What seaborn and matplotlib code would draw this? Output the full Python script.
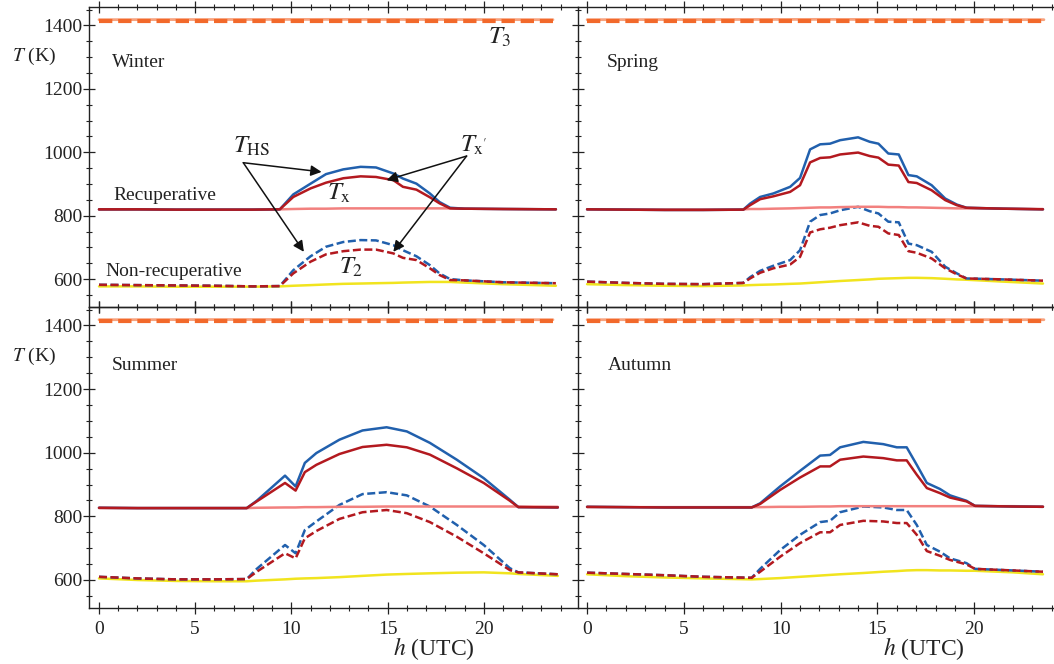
import numpy as np
import pandas as pd
import matplotlib
matplotlib.use("Agg")
import matplotlib.pyplot as plt
from matplotlib.ticker import MultipleLocator
import seaborn as sns

# ---------------- data ----------------
seasons = ["Winter", "Spring", "Summer", "Autumn"]

h_winter = [0, 2, 4, 6, 8, 9.4, 10.1, 11.0, 11.8, 12.7, 13.6, 14.4, 15.3, 15.8, 16.5, 17.2, 17.7, 18.25, 19, 21, 23.75]
tx_rec_winter = [820, 820, 819, 819, 819, 820, 859, 886, 904, 918, 924, 922, 912, 891, 882, 858, 839, 823, 822, 821, 820]
ths_rec_winter = [820, 820, 819, 819, 819, 820, 867, 901, 931, 946, 954, 952, 933, 917, 901, 870, 843, 825, 822, 821, 820]
t2_rec_winter = [819, 819, 819, 819, 819, 820, 821, 822, 822, 823, 823, 823, 823, 823, 823, 823, 823, 823, 822, 821, 820]
tx_non_winter = [582, 581, 580, 579, 577, 578, 618, 655, 678, 688, 693, 693, 681, 667, 660, 634, 613, 597, 596, 590, 587]
ths_non_winter = [582, 581, 580, 579, 577, 578, 628, 672, 702, 717, 723, 722, 707, 691, 672, 644, 618, 600, 596, 590, 587]
t2_non_winter = [577, 577, 576, 576, 576, 577, 579, 581, 583, 585, 586, 587, 588, 589, 590, 591, 591, 591, 589, 584, 579]

h_spring = [0, 2, 4, 6, 8.07, 8.42, 8.94, 9.62, 10.49, 11.0, 11.52, 12.04, 12.55, 13.07, 14.0, 14.6, 15.05, 15.56, 16.1, 16.6, 17.03, 17.8, 18.5, 19.1, 19.6, 21.5, 23.55]
tx_rec_spring = [820, 819, 818, 818, 819, 833, 852, 861, 875, 896, 968, 982, 984, 993, 999, 988, 983, 961, 958, 906, 903, 880, 849, 833, 825, 822, 820]
ths_rec_spring = [820, 819, 818, 818, 819, 838, 859, 870, 891, 919, 1009, 1025, 1027, 1038, 1047, 1033, 1027, 996, 993, 928, 924, 896, 854, 835, 825, 822, 820]
t2_rec_spring = [820, 820, 820, 820, 820, 821, 821, 822, 823, 824, 825, 826, 826, 827, 828, 828, 828, 827, 827, 826, 826, 825, 824, 823, 823, 822, 821]
tx_non_spring = [592, 588, 585, 584, 588, 602, 620, 634, 646, 670, 747, 757, 762, 770, 779, 768, 765, 744, 739, 688, 683, 665, 634, 615, 602, 599, 595]
ths_non_spring = [592, 588, 585, 584, 588, 606, 626, 642, 660, 691, 781, 802, 807, 817, 828, 814, 807, 781, 779, 712, 707, 686, 639, 618, 602, 599, 595]
t2_non_spring = [584, 581, 579, 578, 580, 581, 582, 583, 585, 586, 588, 590, 592, 594, 597, 599, 601, 602, 603, 604, 604, 603, 601, 599, 598, 592, 586]

h_summer = [0, 2, 4, 6, 7.68, 8.2, 9.67, 10.22, 10.7, 11.3, 12.5, 13.7, 14.95, 16.0, 17.2, 18.6, 20.0, 21.36, 21.8, 23.85]
tx_rec_summer = [827, 826, 826, 826, 826, 847, 905, 881, 939, 962, 996, 1018, 1025, 1017, 994, 951, 905, 849, 829, 828]
ths_rec_summer = [827, 826, 826, 826, 826, 849, 928, 894, 968, 999, 1041, 1070, 1080, 1067, 1031, 978, 920, 852, 829, 828]
t2_rec_summer = [826, 826, 826, 826, 826, 827, 828, 828, 829, 829, 830, 830, 831, 831, 831, 831, 831, 831, 831, 830]
tx_non_summer = [610, 605, 602, 602, 603, 626, 684, 668, 731, 754, 792, 813, 820, 810, 782, 736, 684, 631, 624, 618]
ths_non_summer = [610, 605, 602, 602, 603, 635, 710, 684, 757, 784, 836, 870, 876, 866, 831, 773, 710, 637, 624, 618]
t2_non_summer = [605, 600, 597, 596, 596, 598, 602, 604, 605, 606, 609, 613, 617, 619, 621, 623, 624, 621, 619, 613]

h_autumn = [0, 2, 4, 6, 8.5, 8.94, 9.97, 11.0, 12.04, 12.55, 13.07, 14.27, 15.3, 16.0, 16.51, 17.03, 17.55, 18.23, 18.75, 19.6, 20.04, 22, 23.55]
tx_rec_autumn = [830, 829, 828, 828, 828, 839, 883, 922, 957, 957, 978, 988, 983, 976, 976, 931, 889, 873, 859, 847, 833, 831, 830]
ths_rec_autumn = [830, 829, 828, 828, 828, 841, 894, 943, 991, 993, 1017, 1034, 1027, 1017, 1017, 962, 905, 886, 866, 849, 833, 831, 830]
t2_rec_autumn = [829, 829, 829, 829, 829, 829, 830, 830, 831, 831, 832, 832, 832, 832, 832, 832, 832, 832, 832, 832, 832, 832, 831]
tx_non_autumn = [623, 619, 615, 610, 607, 626, 673, 716, 750, 750, 773, 786, 784, 779, 779, 742, 691, 676, 663, 649, 635, 630, 626]
ths_non_autumn = [623, 619, 615, 610, 607, 635, 694, 742, 782, 786, 813, 831, 828, 820, 820, 773, 710, 689, 668, 653, 635, 630, 626]
t2_non_autumn = [618, 612, 608, 605, 602, 603, 606, 610, 614, 616, 618, 622, 626, 628, 630, 631, 631, 630, 630, 629, 629, 624, 618]

h_t3 = [0, 12, 23.6]
t3_rec = [1418, 1419, 1418]
t3_non = [1414, 1414, 1414]

x_ticks = [0, 5, 10, 15, 20]
y_ticks = [600, 800, 1000, 1200, 1400]

season_data = {
    "Winter": (h_winter, tx_rec_winter, ths_rec_winter, t2_rec_winter, tx_non_winter, ths_non_winter, t2_non_winter),
    "Spring": (h_spring, tx_rec_spring, ths_rec_spring, t2_rec_spring, tx_non_spring, ths_non_spring, t2_non_spring),
    "Summer": (h_summer, tx_rec_summer, ths_rec_summer, t2_rec_summer, tx_non_summer, ths_non_summer, t2_non_summer),
    "Autumn": (h_autumn, tx_rec_autumn, ths_rec_autumn, t2_rec_autumn, tx_non_autumn, ths_non_autumn, t2_non_autumn),
}

# ---------------- styling ----------------
sns.set_theme(style="ticks")
plt.rcParams["font.family"] = ["Liberation Serif", "DejaVu Serif"]
plt.rcParams["mathtext.fontset"] = "stix"

C_BLUE = "#2160ad"
C_RED = "#b3191f"
C_PINK = "#f2807e"
C_YEL = "#f1e41e"
C_ORA = "#f2692b"
C_ORA_L = "#f7a27e"
LW = 1.8
DASH = (3.2, 1.4)

fig = plt.figure(figsize=(10.54, 6.64), dpi=100)
W, H = 1054, 664
positions = {
    "Winter": [89 / W, 1 - 307 / H, (578 - 89) / W, 300 / H],
    "Spring": [578 / W, 1 - 307 / H, (W - 578) / W, 300 / H],
    "Summer": [89 / W, 1 - 608 / H, (578 - 89) / W, 301 / H],
    "Autumn": [578 / W, 1 - 608 / H, (W - 578) / W, 301 / H],
}
xlims = {"Winter": (-0.52, 24.9), "Summer": (-0.52, 24.9),
         "Spring": (-0.47, 24.12), "Autumn": (-0.47, 24.12)}
label_pos = {"Winter": (0.68, 1268), "Spring": (1.02, 1269),
             "Summer": (0.66, 1261), "Autumn": (1.05, 1261)}

axes = {}
for s in seasons:
    ax = fig.add_axes(positions[s])
    axes[s] = ax
    h, tx_r, ths_r, t2_r, tx_n, ths_n, t2_n = season_data[s]
    df = pd.DataFrame({"h": h, "tx_r": tx_r, "ths_r": ths_r, "t2_r": t2_r,
                       "tx_n": tx_n, "ths_n": ths_n, "t2_n": t2_n})
    dft3 = pd.DataFrame({"h": h_t3, "rec": t3_rec, "non": t3_non})

    kw = dict(ax=ax, estimator=None, sort=False, legend=False)
    sns.lineplot(data=dft3, x="h", y="rec", color=C_ORA_L, lw=2.0, **kw)
    sns.lineplot(data=dft3, x="h", y="non", color=C_ORA, lw=3.0, **kw)
    ax.lines[-1].set_dashes(DASH)
    sns.lineplot(data=df, x="h", y="t2_n", color=C_YEL, lw=LW, **kw)
    sns.lineplot(data=df, x="h", y="ths_n", color=C_BLUE, lw=LW, **kw)
    ax.lines[-1].set_dashes(DASH)
    sns.lineplot(data=df, x="h", y="tx_n", color=C_RED, lw=LW, **kw)
    ax.lines[-1].set_dashes(DASH)
    sns.lineplot(data=df, x="h", y="t2_r", color=C_PINK, lw=LW, **kw)
    sns.lineplot(data=df, x="h", y="ths_r", color=C_BLUE, lw=LW, **kw)
    sns.lineplot(data=df, x="h", y="tx_r", color=C_RED, lw=LW, **kw)

    ax.set_xlim(*xlims[s])
    ax.set_ylim(512, 1458)
    ax.set_xticks(x_ticks)
    ax.set_yticks(y_ticks)
    ax.xaxis.set_minor_locator(MultipleLocator(1))
    ax.yaxis.set_minor_locator(MultipleLocator(50))
    ax.tick_params(which="major", direction="inout", length=8, width=0.9,
                   color="#222222", labelsize=14, top=True, labelcolor="#222222")
    ax.tick_params(which="minor", direction="inout", length=4.5, width=0.8,
                   color="#222222", top=True)
    ax.tick_params(axis="x", pad=5)
    ax.tick_params(axis="y", pad=1)
    ax.set_xlabel("")
    ax.set_ylabel("")
    for sp in ["left", "bottom", "top"]:
        ax.spines[sp].set_color("#222222")
        ax.spines[sp].set_linewidth(1.0)
    ax.spines["right"].set_visible(False)
    ax.patch.set_alpha(0)
    if s in ("Winter", "Spring"):
        ax.tick_params(axis="x", labelbottom=False)
    if s in ("Spring", "Autumn"):
        ax.tick_params(axis="y", labelleft=False)
    lx, ly = label_pos[s]
    ax.text(lx, ly, s, fontsize=14, ha="left", va="baseline", color="#222222")

# annotations in the Winter panel
axw = axes["Winter"]
axw.text(0.73, 849, "Recuperative", fontsize=14, ha="left", va="baseline", color="#222222")
axw.text(0.31, 610, "Non-recuperative", fontsize=14, ha="left", va="baseline", color="#222222")
axw.text(6.96, 1000, r"$T_{\rm HS}$", fontsize=18, ha="left", va="baseline", color="#222222")
axw.text(18.76, 1003, r"$T_{\rm x'}$", fontsize=18, ha="left", va="baseline", color="#222222")
axw.text(11.85, 849, r"$T_{\rm x}$", fontsize=18, ha="left", va="baseline", color="#222222")
axw.text(12.5, 616, r"$T_{2}$", fontsize=18, ha="left", va="baseline", color="#222222")
axw.text(20.2, 1343, r"$T_{3}$", fontsize=18, ha="left", va="baseline", color="#222222")
arrow = dict(arrowstyle="-|>", mutation_scale=16, lw=1.1, color="#111111",
             shrinkA=0, shrinkB=0)
axw.annotate("", xy=(11.57, 938), xytext=(7.5, 967), arrowprops=arrow)
axw.annotate("", xy=(10.65, 686), xytext=(7.5, 967), arrowprops=arrow)
axw.annotate("", xy=(14.95, 912), xytext=(19.11, 988), arrowprops=arrow)
axw.annotate("", xy=(15.3, 686), xytext=(19.11, 988), arrowprops=arrow)

# axis labels
fig.text(12 / W, 1 - 61 / H, r"$T$ (K)", fontsize=14, ha="left", va="baseline", color="#222222")
fig.text(12 / W, 1 - 361 / H, r"$T$ (K)", fontsize=14, ha="left", va="baseline", color="#222222")
fig.text(393 / W, 1 - 655 / H, r"$h$ (UTC)", fontsize=17, ha="left", va="baseline", color="#222222")
fig.text(883 / W, 1 - 655 / H, r"$h$ (UTC)", fontsize=17, ha="left", va="baseline", color="#222222")

fig.savefig("out.png", dpi=100)
